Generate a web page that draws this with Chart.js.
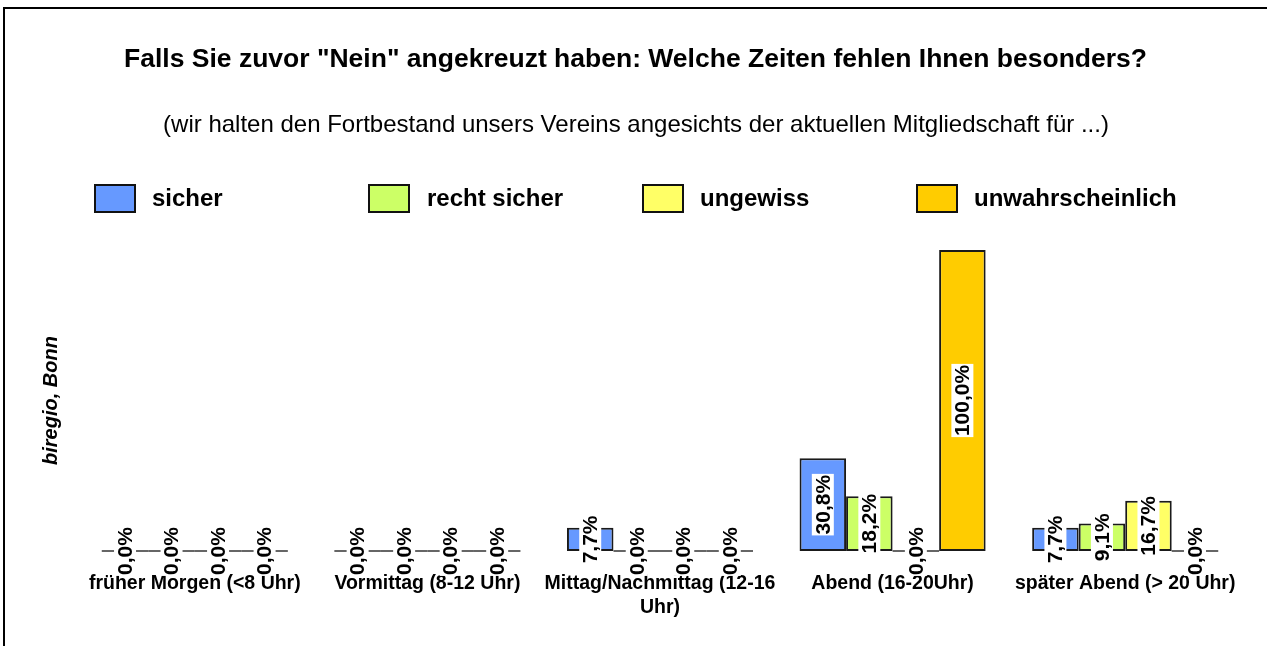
<!DOCTYPE html>
<html><head><meta charset="utf-8">
<script src="https://cdn.jsdelivr.net/npm/chart.js@4.4.1/dist/chart.umd.min.js"></script>
<style>
html,body{margin:0;padding:0;background:#fff;overflow:hidden;width:1267px;height:646px;}
#frame{position:absolute;left:3px;top:7px;width:1300px;height:700px;border:2px solid #000;box-sizing:border-box;}
#wrap{position:absolute;left:4px;top:0;width:1263px;height:646px;}
</style></head><body>
<div id="frame"></div>
<div id="wrap"><canvas id="c"></canvas></div>
<script>
const FONT = "'Liberation Sans', Arial, Helvetica, sans-serif";
const titleText = 'Falls Sie zuvor "Nein" angekreuzt haben: Welche Zeiten fehlen Ihnen besonders?';
const subtitleText = '(wir halten den Fortbestand unsers Vereins angesichts der aktuellen Mitgliedschaft für ...)';
const yTitle = 'biregio, Bonn';
const categories = ['früher Morgen (<8 Uhr)', 'Vormittag (8-12 Uhr)', 'Mittag/Nachmittag (12-16 Uhr)', 'Abend (16-20Uhr)', 'später Abend (> 20 Uhr)'];
const seriesNames = ['sicher', 'recht sicher', 'ungewiss', 'unwahrscheinlich'];
const sicher = [0, 0, 7.7, 30.8, 7.7];
const rechtSicher = [0, 0, 0, 18.2, 9.1];
const ungewiss = [0, 0, 0, 0, 16.7];
const unwahrscheinlich = [0, 0, 0, 100, 0];
const seriesColors = ['#6699FF', '#CCFF66', '#FFFF66', '#FFCC00'];
const yMax = 100;

const seriesValues = [sicher, rechtSicher, ungewiss, unwahrscheinlich];

function wrapLabel(s, maxChars) {
  const words = s.split(' ');
  const lines = [];
  let cur = '';
  words.forEach(w => {
    const t = cur ? cur + ' ' + w : w;
    if (t.length > maxChars && cur) { lines.push(cur); cur = w; } else { cur = t; }
  });
  if (cur) lines.push(cur);
  return lines;
}

const fmt = v => v.toFixed(1).replace('.', ',') + '%';

const barLabelPlugin = {
  id: 'barLabels',
  afterDatasetsDraw(chart) {
    const ctx = chart.ctx;
    const items = [];
    chart.data.datasets.forEach((ds, i) => {
      const meta = chart.getDatasetMeta(i);
      meta.data.forEach((bar, j) => {
        const p = bar.getProps(['x', 'y', 'base', 'width'], true);
        items.push({ v: ds.data[j], ...p });
      });
    });
    ctx.save();
    ctx.strokeStyle = '#333';
    ctx.lineWidth = 1.5;
    items.forEach(it => {
      if (it.v === 0) {
        ctx.beginPath();
        ctx.moveTo(it.x - it.width / 2, it.base);
        ctx.lineTo(it.x + it.width / 2, it.base);
        ctx.stroke();
      }
    });
    ctx.font = 'bold 21px ' + FONT;
    ctx.textAlign = 'center';
    ctx.textBaseline = 'middle';
    items.forEach(it => {
      const txt = fmt(it.v);
      const w = ctx.measureText(txt).width;
      ctx.save();
      ctx.translate(it.x, (it.y + it.base) / 2);
      ctx.rotate(-Math.PI / 2);
      ctx.fillStyle = '#fff';
      ctx.fillRect(-w / 2 - 1, -11, w + 2, 22);
      ctx.fillStyle = '#000';
      ctx.fillText(txt, 0, 1);
      ctx.restore();
    });
    ctx.restore();
  }
};

const legendPos = [
  { box: 95, text: 152 },
  { box: 369, text: 427 },
  { box: 643, text: 700 },
  { box: 917, text: 974 }
];
const headerPlugin = {
  id: 'header',
  afterDraw(chart) {
    const ctx = chart.ctx;
    const cx = chart.width / 2;
    ctx.save();
    ctx.fillStyle = '#000';
    ctx.textAlign = 'center';
    ctx.textBaseline = 'middle';
    ctx.font = 'bold 26.5px ' + FONT;
    ctx.fillText(titleText, cx, 60);
    ctx.font = '24px ' + FONT;
    ctx.fillText(subtitleText, cx + 0.5, 125);
    // legend
    ctx.font = 'bold 24px ' + FONT;
    ctx.textAlign = 'left';
    chart.data.datasets.forEach((ds, i) => {
      const p = legendPos[i];
      const bx = p.box - 4;
      ctx.fillStyle = ds.backgroundColor;
      ctx.fillRect(bx, 185, 40, 27);
      ctx.strokeStyle = '#111';
      ctx.lineWidth = 2;
      ctx.strokeRect(bx, 185, 40, 27);
      ctx.fillStyle = '#000';
      ctx.fillText(ds.label, p.text - 4, 199);
    });
    ctx.restore();
  }
};

new Chart(document.getElementById('c'), {
  type: 'bar',
  data: {
    labels: categories,
    datasets: seriesNames.map((n, i) => ({
      label: n,
      data: seriesValues[i],
      backgroundColor: seriesColors[i],
      borderColor: '#1a1a1a',
      borderWidth: 2,
      borderSkipped: false,
      categoryPercentage: 0.8,
      barPercentage: 1.0
    }))
  },
  options: {
    responsive: true,
    maintainAspectRatio: false,
    animation: false,
    layout: { padding: { left: 20, right: 25.5, top: 250, bottom: 0 } },
    plugins: {
      legend: { display: false },
      tooltip: { enabled: false },
      title: { display: false }
    },
    scales: {
      x: {
        grid: { display: false, drawTicks: false },
        border: { display: false },
        ticks: {
          color: '#000', font: { family: FONT, size: 19.5, weight: 'bold', lineHeight: 1.25 },
          padding: 20, maxRotation: 0, autoSkip: false,
          callback: function (v) { return wrapLabel(this.getLabelForValue(v), 24); }
        },
        afterFit: s => { s.height = 95; }
      },
      y: {
        min: 0, max: yMax,
        grid: { display: false, drawTicks: false },
        border: { display: false },
        ticks: { display: false },
        title: {
          display: true, text: yTitle, color: '#000',
          font: { family: FONT, size: 20, weight: 'bold', style: 'italic' },
          padding: { top: 15, bottom: 0 }
        },
        afterFit: s => { s.width = 54.5; }
      }
    }
  },
  plugins: [barLabelPlugin, headerPlugin]
});
</script>
</body></html>
